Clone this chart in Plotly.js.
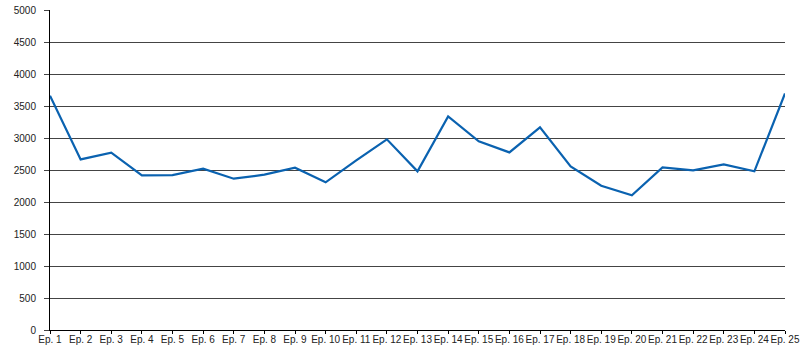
<!DOCTYPE html>
<html>
<head>
<meta charset="utf-8">
<script src="https://cdn.plot.ly/plotly-3.0.1.min.js"></script>
<style>html,body{margin:0;padding:0;background:#fff;}#chart{width:800px;height:350px;}</style>
</head>
<body>
<div id="chart"></div>
<script>
const episodes = ["Ep. 1","Ep. 2","Ep. 3","Ep. 4","Ep. 5","Ep. 6","Ep. 7","Ep. 8","Ep. 9","Ep. 10","Ep. 11","Ep. 12","Ep. 13","Ep. 14","Ep. 15","Ep. 16","Ep. 17","Ep. 18","Ep. 19","Ep. 20","Ep. 21","Ep. 22","Ep. 23","Ep. 24","Ep. 25"];
const viewers = [3660,2666,2770,2416,2420,2520,2364,2427,2536,2307,2650,2979,2479,3338,2947,2775,3166,2557,2255,2104,2541,2494,2588,2479,3697];
const yTicks = [0,500,1000,1500,2000,2500,3000,3500,4000,4500,5000];

const trace = {
  x: episodes,
  y: viewers,
  type: 'scatter',
  mode: 'lines',
  line: {color: '#0a62b0', width: 2.2},
  hoverinfo: 'x+y'
};

const layout = {
  width: 800,
  height: 350,
  margin: {l: 50, r: 15, t: 10, b: 20, pad: 0},
  paper_bgcolor: '#ffffff',
  plot_bgcolor: '#ffffff',
  showlegend: false,
  font: {family: '"Liberation Sans", Arial, sans-serif', size: 10, color: '#222'},
  xaxis: {
    type: 'category',
    range: [0, episodes.length - 1],
    showgrid: false,
    zeroline: false,
    showline: true,
    linecolor: '#000',
    linewidth: 1,
    ticks: 'outside',
    ticklen: 3,
    tickcolor: '#000',
    tickangle: 0,
    ticklabelstandoff: -3,
    tickfont: {size: 10, color: '#222'}
  },
  yaxis: {
    range: [0, 5000],
    tickvals: yTicks,
    ticktext: yTicks.map(String),
    showgrid: true,
    gridcolor: '#444',
    gridwidth: 1,
    zeroline: false,
    showline: true,
    linecolor: '#000',
    linewidth: 1,
    ticks: 'outside',
    ticklen: 5,
    tickcolor: '#444',
    ticklabelstandoff: 6,
    tickfont: {size: 10, color: '#222'}
  }
};

Plotly.newPlot('chart', [trace], layout, {displayModeBar: false, staticPlot: true});
</script>
</body>
</html>
